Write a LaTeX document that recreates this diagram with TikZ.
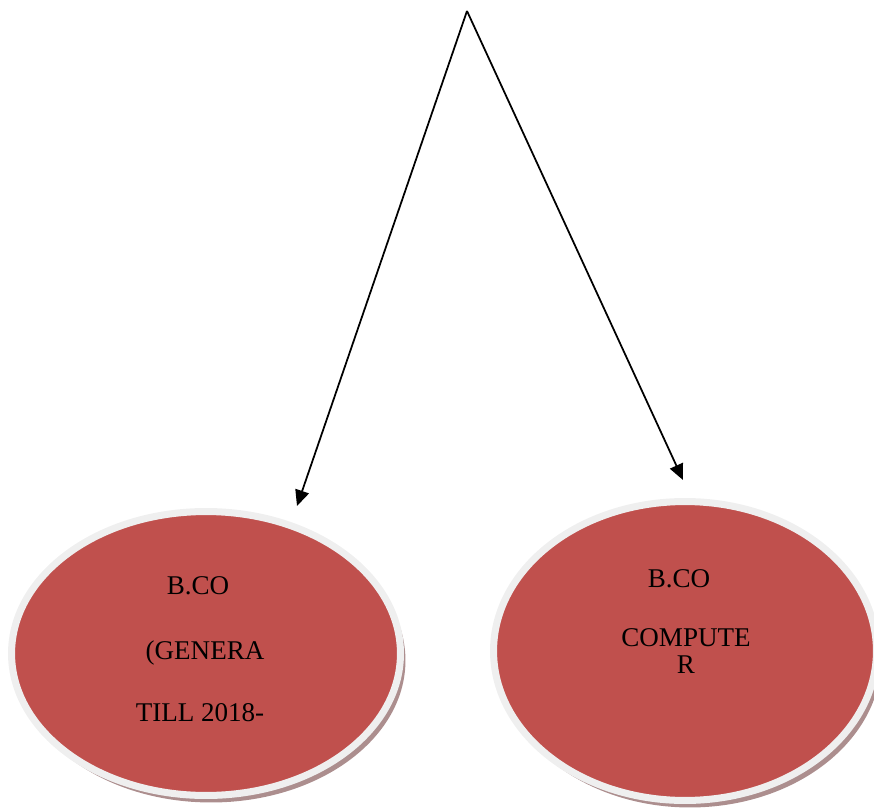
\documentclass[tikz,border=0pt]{standalone}
\usepackage{fontspec}
\setmainfont{Liberation Serif}
\usetikzlibrary{arrows.meta}
\usetikzlibrary{shapes.geometric}
\usetikzlibrary{shadows}

\definecolor{bubblered}{HTML}{C0504D}
\definecolor{bubblerim}{HTML}{EFEFEF}
\definecolor{bubbleshade}{HTML}{AC8E8E}

\begin{document}
\begin{tikzpicture}[x = 0.02cm, y = -0.02cm,
		bubble/.style = {ellipse, fill = bubblered, draw = bubblerim, line width = 4pt, inner sep = 0pt,
			drop shadow = {shadow xshift = 0.1cm, shadow yshift = -0.14cm, fill = bubbleshade, opacity = 1}},
		word/.style = {anchor = base, inner sep = 0pt, font = \fontsize{15.4}{18}\selectfont},
		link/.style = {black, line width = 1pt, -{Triangle[length = 9pt, width = 8pt]}}]
					\useasboundingbox (0, 0) rectangle (874, 810);
					\node (general) at (206, 653.5) [bubble, minimum width = 7.78cm, minimum height = 5.68cm] {};
					\node (computer) at (685, 651) [bubble, minimum width = 7.66cm, minimum height = 5.98cm] {};
					\node (genA) at (198, 594) [word] {B.CO};
					\node (genB) at (205, 659) [word] {(GENERA};
					\node (genC) at (200, 721) [word] {TILL 2018-};
					\node (compA) at (679, 587) [word] {B.CO};
					\node (compB) at (686, 646) [word] {COMPUTE};
					\node (compC) at (686, 673) [word] {R};
					\coordinate (top) at (467, 11);
					\coordinate (leftend) at (297, 506);
					\coordinate (rightend) at (683, 480);
					\draw[link] (top)--(leftend);
					\draw[link] (top)--(rightend);
				\end{tikzpicture}
\end{document}
